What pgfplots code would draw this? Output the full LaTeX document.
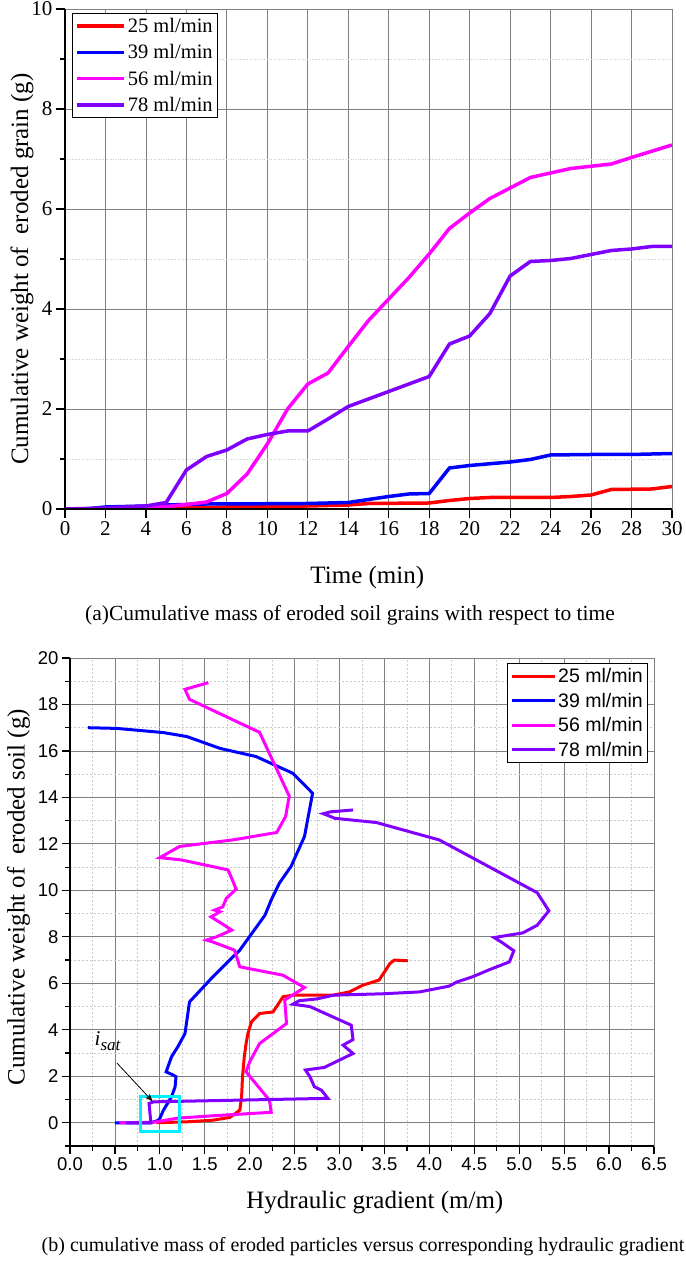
\documentclass[border=0pt]{standalone}
\usepackage{fontspec}
\setmainfont{Liberation Serif}
\newfontfamily\arial{Liberation Sans}
\usepackage{pgfplots}
\pgfplotsset{compat=1.18}
\usetikzlibrary{arrows.meta}
\definecolor{cred}{RGB}{255,0,0}
\definecolor{cblue}{RGB}{0,0,255}
\definecolor{cmag}{RGB}{255,0,255}
\definecolor{cpur}{RGB}{128,0,255}
\definecolor{ccyan}{RGB}{0,240,255}
\begin{document}
\begin{tikzpicture}
\useasboundingbox (0pt,0pt) rectangle (685pt,1265pt);
% ---------------- (a) ----------------
\begin{axis}[
  at={(65pt,756pt)}, anchor=south west,
  scale only axis, width=607pt, height=500pt,
  xmin=0, xmax=30, ymin=0, ymax=10,
  xtick={0,2,...,30}, ytick={0,2,...,10}, minor ytick={1,3,...,9},
  tick pos=left, tick align=outside,
  major tick length=9pt, minor tick length=5pt,
  tick style={black, line width=1.2pt},
  axis line style={gray, line width=0.8pt},
  grid=both,
  major grid style={gray, line width=0.8pt},
  minor grid style={gray!40, dotted, line width=0.7pt},
  clip mode=individual,
  /pgf/number format/assume math mode=true,
  ticklabel style={font=\fontsize{21}{21}\selectfont},
  xlabel={Time (min)},
  ylabel={Cumulative weight of\ \ eroded grain (g)},
  xlabel style={font=\fontsize{25}{25}\selectfont, at={(axis description cs:0.498,-0.136)}, anchor=center},
  ylabel style={font=\fontsize{25}{25}\selectfont, at={(axis description cs:-0.071,0.48)}, anchor=center},
  legend style={at={(axis description cs:0.0115,0.992)}, anchor=north west,
    draw=black, line width=0.8pt, font=\fontsize{20.5}{20.5}\selectfont,
    row sep=6.5pt, inner xsep=3pt, inner ysep=3pt, cells={anchor=west}},
  legend image code/.code={\draw[#1] (0pt,0pt) -- (47pt,0pt);},
]
\addplot[cred, line width=3.5pt] table {
0 0
2 0.0
4 0.0
5 0.01
6 0.02
8 0.04
10 0.05
12 0.06
14 0.08
15 0.11
18 0.12
19 0.17
20 0.21
21 0.23
24 0.23
25 0.25
26 0.28
27 0.39
29 0.40
30 0.45
};
\addlegendentry{25 ml/min}
\addplot[cblue, line width=3.5pt] table {
0 0
1 0.0
2 0.04
4 0.06
5 0.08
6 0.09
7 0.10
8 0.10
12 0.11
14 0.13
15 0.19
16 0.25
17 0.30
18 0.31
19 0.82
20 0.87
22 0.94
23 0.99
24 1.08
26 1.09
28 1.09
30 1.11
};
\addlegendentry{39 ml/min}
\addplot[cmag, line width=3.5pt] table {
0 0
2 0.0
4 0.02
5 0.05
6 0.09
7 0.14
8 0.31
9 0.70
10 1.30
11 2.00
12 2.50
13 2.72
14 3.25
15 3.77
16 4.20
17 4.63
18 5.10
19 5.61
20 5.92
21 6.21
22 6.42
23 6.63
25 6.81
27 6.90
28 7.03
30 7.28
};
\addlegendentry{56 ml/min}
\addplot[cpur, line width=3.5pt] table {
0 0
2 0.02
4 0.06
5 0.13
6 0.78
7 1.05
8 1.18
9 1.40
10 1.49
11 1.56
12 1.56
13 1.80
14 2.05
15 2.20
16 2.35
17 2.50
18 2.65
19 3.30
20 3.46
21 3.91
22 4.66
23 4.95
24 4.97
25 5.01
26 5.09
27 5.17
28 5.20
29 5.25
30 5.25
};
\addlegendentry{78 ml/min}
\draw[black, line width=1.8pt] (rel axis cs:0,1) -- (rel axis cs:0,0) -- (rel axis cs:1,0);
\end{axis}
\node[font=\fontsize{21.5}{21.5}\selectfont] at (350pt,650pt) {(a)Cumulative mass of eroded soil grains with respect to time};
% ---------------- (b) ----------------
\begin{axis}[
  at={(70pt,119pt)}, anchor=south west,
  scale only axis, width=584pt, height=488pt,
  xmin=0, xmax=6.5, ymin=-1, ymax=20,
  xtick={0,0.5,1,1.5,2,2.5,3,3.5,4,4.5,5,5.5,6,6.5},
  minor xtick={0.25,0.75,1.25,1.75,2.25,2.75,3.25,3.75,4.25,4.75,5.25,5.75,6.25},
  ytick={0,2,...,20}, minor ytick={-1,1,...,19},
  tick pos=left, tick align=outside,
  major tick length=8pt, minor tick length=5pt,
  tick style={black, line width=1.2pt},
  axis line style={gray, line width=0.8pt},
  grid=both,
  major grid style={gray, line width=0.8pt},
  minor grid style={gray!40, dash pattern=on 2pt off 2pt, line width=0.7pt},
  clip mode=individual,
  /pgf/number format/assume math mode=true,
  ticklabel style={font=\arial\fontsize{18.5}{18.5}\selectfont},
  xticklabel style={/pgf/number format/.cd, fixed, fixed zerofill, precision=1},
  xlabel={Hydraulic gradient (m/m)},
  ylabel={Cumulative weight of\ \ eroded soil (g)},
  xlabel style={font=\fontsize{25}{25}\selectfont, at={(axis description cs:0.522,-0.115)}, anchor=center},
  ylabel style={font=\fontsize{25}{25}\selectfont, at={(axis description cs:-0.088,0.51)}, anchor=center},
  legend style={at={(axis description cs:0.99,0.99)}, anchor=north east,
    draw=black, line width=0.8pt, font=\arial\fontsize{19.5}{19.5}\selectfont,
    row sep=5pt, inner xsep=3pt, inner ysep=3pt, cells={anchor=west}},
  legend image code/.code={\draw[#1] (0pt,0pt) -- (43pt,0pt);},
]
\addplot[cred, line width=3pt] table {
0.96 0
1.30 0.04
1.59 0.11
1.78 0.23
1.89 0.54
1.91 1.12
1.92 1.98
1.94 2.84
1.96 3.41
1.98 3.84
2.02 4.34
2.11 4.70
2.26 4.77
2.31 5.06
2.37 5.42
2.48 5.49
2.93 5.49
3.11 5.63
3.26 5.92
3.44 6.14
3.50 6.49
3.56 6.85
3.61 7.00
3.76 6.97
};
\addlegendentry{25 ml/min}
\addplot[cblue, line width=3pt] table {
0.50 0
0.90 0.0
0.98 0.10
1.00 0.19
1.04 0.54
1.13 1.12
1.17 1.55
1.18 1.98
1.15 2.05
1.07 2.19
1.13 2.84
1.20 3.27
1.28 3.84
1.33 5.20
1.59 6.28
1.89 7.43
2.17 8.93
2.24 9.59
2.33 10.31
2.46 11.03
2.61 12.32
2.70 14.18
2.48 15.04
2.07 15.76
1.67 16.11
1.30 16.62
1.04 16.79
0.52 16.97
0.20 17.00
};
\addlegendentry{39 ml/min}
\addplot[cmag, line width=3pt] table {
0.55 0
0.93 0.02
1.20 0.20
1.59 0.30
2.24 0.45
2.22 0.97
1.96 2.19
2.00 2.62
2.11 3.41
2.41 4.27
2.39 5.28
2.61 5.82
2.37 6.35
1.89 6.71
1.83 7.43
1.59 7.78
1.52 7.86
1.63 8.00
1.80 8.29
1.69 8.57
1.57 8.86
1.67 9.08
1.61 9.15
1.70 9.29
1.74 9.66
1.85 10.05
1.76 10.88
1.24 11.31
1.00 11.41
1.22 11.89
1.81 12.17
2.30 12.49
2.40 13.18
2.44 14.06
2.11 16.80
1.33 18.22
1.28 18.65
1.54 18.94
};
\addlegendentry{56 ml/min}
\addplot[cpur, line width=3pt] table {
0.62 0
0.90 0
0.88 0.83
0.93 0.90
2.87 1.05
2.80 1.40
2.72 1.55
2.67 1.98
2.62 2.27
2.83 2.38
3.15 2.98
3.04 3.34
3.15 3.58
3.13 4.20
2.67 5.00
2.48 5.10
2.55 5.25
2.75 5.33
2.93 5.49
3.48 5.55
3.89 5.63
4.22 5.88
4.30 6.05
4.48 6.28
4.67 6.59
4.89 6.92
4.94 7.40
4.80 7.78
4.72 7.97
5.04 8.17
5.20 8.50
5.33 9.12
5.20 9.90
4.11 12.17
3.41 12.92
2.95 13.10
2.82 13.30
2.90 13.38
3.15 13.46
};
\addlegendentry{78 ml/min}
\draw[ccyan, line width=3pt] (axis cs:0.78,-0.39) rectangle (axis cs:1.22,1.12);
\draw[black, line width=0.8pt, -{Stealth[length=8pt,width=6pt]}] (axis cs:0.52,2.58) -- (axis cs:0.92,0.92);
\node[font=\fontsize{21}{21}\selectfont, inner sep=0pt] at (axis cs:0.42,3.5) {\textit{i}\raisebox{-5pt}{\fontsize{17}{17}\selectfont\textit{sat}}};
\draw[black, line width=1.8pt] (rel axis cs:0,1) -- (rel axis cs:0,0) -- (rel axis cs:1,0);
\end{axis}
\node[font=\fontsize{20}{20}\selectfont] at (363pt,18pt) {(b) cumulative mass of eroded particles versus corresponding hydraulic gradient};
\end{tikzpicture}
\end{document}
